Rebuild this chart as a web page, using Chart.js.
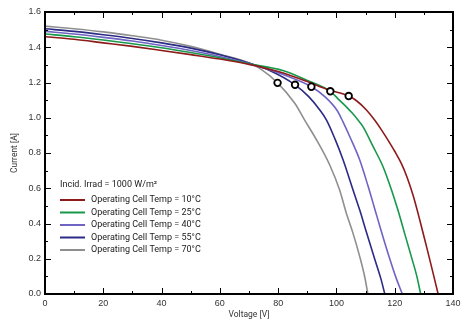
<!DOCTYPE html>
<html lang="en">
<head>
<meta charset="UTF-8">
<title>I-V Curves vs Cell Temperature</title>
<script src="https://cdn.jsdelivr.net/npm/chart.js"></script>
<style>
  html, body { margin: 0; padding: 0; background: #fff; }
  #wrap { position: relative; width: 470px; height: 320px; }
</style>
</head>
<body>
<div id="wrap"><canvas id="iv"></canvas></div>
<script>
  // values, one pair of arrays per temperature
  const legendTitle = 'Incid. Irrad = 1000 W/m\u00B2';
  const seriesLabels = [
    'Operating Cell Temp = 10\u00B0C',
    'Operating Cell Temp = 25\u00B0C',
    'Operating Cell Temp = 40\u00B0C',
    'Operating Cell Temp = 55\u00B0C',
    'Operating Cell Temp = 70\u00B0C'
  ];
  const seriesColors = ['#8e1b1b', '#17984a', '#6f63c4', '#2b2b86', '#8f8f8f'];

  const volt10 = [0, 10, 20, 30, 40, 50, 60, 70, 80, 90, 97, 104.2, 107, 110.3, 113.1, 115.5, 117.7, 120, 122.3, 124.3, 126.3, 128.6, 130.9, 133, 134.9];
  const amp10  = [1.46, 1.445, 1.425, 1.405, 1.382, 1.358, 1.333, 1.303, 1.262, 1.205, 1.16, 1.123, 1.095, 1.044, 0.987, 0.93, 0.873, 0.81, 0.74, 0.66, 0.56, 0.42, 0.27, 0.13, 0];

  const volt25 = [0, 10, 20, 30, 40, 50, 60, 70, 81.6, 90, 97.9, 101, 103.4, 105.5, 107.4, 109.1, 112.6, 116, 118.9, 121.1, 123.4, 125.7, 127.6, 128.9];
  const amp25  = [1.475, 1.46, 1.441, 1.42, 1.397, 1.37, 1.34, 1.306, 1.268, 1.212, 1.15, 1.1, 1.062, 1.025, 0.987, 0.95, 0.836, 0.722, 0.59, 0.476, 0.344, 0.212, 0.1, 0];

  const volt40 = [0, 10, 20, 30, 40, 50, 60, 70, 81.7, 91.4, 96, 100.3, 102.3, 104.6, 108, 110.8, 113.2, 115.6, 118.1, 120.5, 122.6];
  const amp40  = [1.49, 1.475, 1.456, 1.435, 1.41, 1.382, 1.348, 1.308, 1.245, 1.176, 1.12, 1.04, 0.975, 0.892, 0.76, 0.615, 0.48, 0.345, 0.21, 0.09, 0];

  const volt55 = [0, 10, 20, 30, 40, 50, 60, 70, 77.1, 85.8, 90.5, 94.3, 96.6, 99.5, 102.3, 105.7, 108, 110.3, 113.1, 115.2, 116.6];
  const amp55  = [1.505, 1.49, 1.471, 1.45, 1.425, 1.395, 1.357, 1.31, 1.268, 1.187, 1.12, 1.044, 0.987, 0.88, 0.76, 0.59, 0.476, 0.35, 0.2, 0.09, 0];

  const volt70 = [0, 10, 20, 30, 40, 50, 60, 70.3, 73.7, 79.8, 85.7, 89.1, 93.5, 97.7, 101.1, 103.4, 105.7, 108, 109.7, 110.8];
  const amp70  = [1.52, 1.505, 1.487, 1.465, 1.44, 1.405, 1.36, 1.309, 1.28, 1.198, 1.082, 0.987, 0.865, 0.732, 0.59, 0.458, 0.344, 0.212, 0.098, 0];

  // maximum power points (10, 25, 40, 55, 70 degC)
  const mppVolt = [104.2, 97.9, 91.4, 85.8, 79.8];
  const mppAmp  = [1.123, 1.15, 1.176, 1.187, 1.198];

  const xTicks = [0, 20, 40, 60, 80, 100, 120, 140];
  const yTicks = [0, 0.2, 0.4, 0.6, 0.8, 1.0, 1.2, 1.4, 1.6];

  const voltSets = [volt10, volt25, volt40, volt55, volt70];
  const ampSets = [amp10, amp25, amp40, amp55, amp70];

  const toPoints = (xs, ys) => xs.map((x, i) => ({ x: x, y: ys[i] }));

  const datasets = seriesLabels.map((label, k) => ({
    label: label,
    data: toPoints(voltSets[k], ampSets[k]),
    borderColor: seriesColors[k],
    backgroundColor: seriesColors[k],
    borderWidth: 1.6,
    pointRadius: 0,
    cubicInterpolationMode: 'monotone',
    fill: false
  }));

  datasets.push({
    label: 'mpp',
    data: toPoints(mppVolt, mppAmp),
    showLine: false,
    pointRadius: 3.3,
    pointBorderWidth: 1.8,
    pointBackgroundColor: '#fff',
    pointBorderColor: '#000',
    order: -1
  });

  // frame, inward ticks and the in-plot legend
  const framePlugin = {
    id: 'frame',
    afterDraw(chart) {
      const ctx = chart.ctx;
      const a = chart.chartArea;
      const xs = chart.scales.x, ys = chart.scales.y;
      ctx.save();
      ctx.strokeStyle = '#000';
      ctx.lineWidth = 1;
      // minor + major ticks on all four sides
      for (let v = 0; v <= 140; v += 10) {
        const px = Math.round(xs.getPixelForValue(v)) + 0.5;
        const len = v % 20 === 0 ? 6 : 3;
        ctx.beginPath();
        ctx.moveTo(px, a.bottom); ctx.lineTo(px, a.bottom - len);
        ctx.moveTo(px, a.top); ctx.lineTo(px, a.top + len);
        ctx.stroke();
      }
      for (let i = 0; i <= 16; i++) {
        const py = Math.round(ys.getPixelForValue(i / 10)) + 0.5;
        const len = i % 2 === 0 ? 6 : 3;
        ctx.beginPath();
        ctx.moveTo(a.left, py); ctx.lineTo(a.left + len, py);
        ctx.moveTo(a.right, py); ctx.lineTo(a.right - len, py);
        ctx.stroke();
      }
      ctx.lineWidth = 2;
      ctx.strokeRect(a.left, a.top, a.right - a.left, a.bottom - a.top);

      // legend
      const lx = a.left + 15;
      let ly = a.top + 173;
      ctx.font = '9px Roboto';
      ctx.fillStyle = '#222';
      ctx.textBaseline = 'middle';
      ctx.fillText(legendTitle, lx, ly);
      seriesLabels.forEach((label, k) => {
        ly = a.top + 188 + k * 12.5;
        ctx.strokeStyle = seriesColors[k];
        ctx.lineWidth = 2;
        ctx.beginPath();
        ctx.moveTo(lx, ly); ctx.lineTo(lx + 25, ly);
        ctx.stroke();
        ctx.fillText(label, lx + 31, ly);
      });
      ctx.restore();
    }
  };

  new Chart(document.getElementById('iv'), {
    type: 'line',
    data: { datasets: datasets },
    options: {
      responsive: true,
      maintainAspectRatio: false,
      animation: false,
      layout: { padding: { top: 12, right: 17, left: 0, bottom: 0 } },
      plugins: { legend: { display: false }, tooltip: { enabled: false } },
      scales: {
        x: {
          type: 'linear',
          min: 0, max: 140,
          afterFit(s) { s.height = 26; },
          afterBuildTicks(s) { s.ticks = xTicks.map(v => ({ value: v })); },
          grid: { display: false, drawTicks: false },
          border: { display: false },
          ticks: { color: '#333', font: { family: 'Arial', size: 9 }, padding: 4, maxRotation: 0 },
          title: { display: true, text: 'Voltage [V]', color: '#333', font: { family: 'Roboto', size: 8.5 }, padding: { top: 0, bottom: 0 } }
        },
        y: {
          min: 0, max: 1.6,
          afterFit(s) { s.width = 45; },
          afterBuildTicks(s) { s.ticks = yTicks.map(v => ({ value: v })); },
          grid: { display: false, drawTicks: false },
          border: { display: false },
          ticks: { color: '#333', font: { family: 'Arial', size: 9 }, padding: 4, callback: v => v.toFixed(1) },
          title: { display: true, text: 'Current [A]', color: '#333', font: { family: 'Roboto', size: 8.5 }, padding: { top: 10, bottom: 0 } }
        }
      }
    },
    plugins: [framePlugin]
  });
</script>
</body>
</html>
